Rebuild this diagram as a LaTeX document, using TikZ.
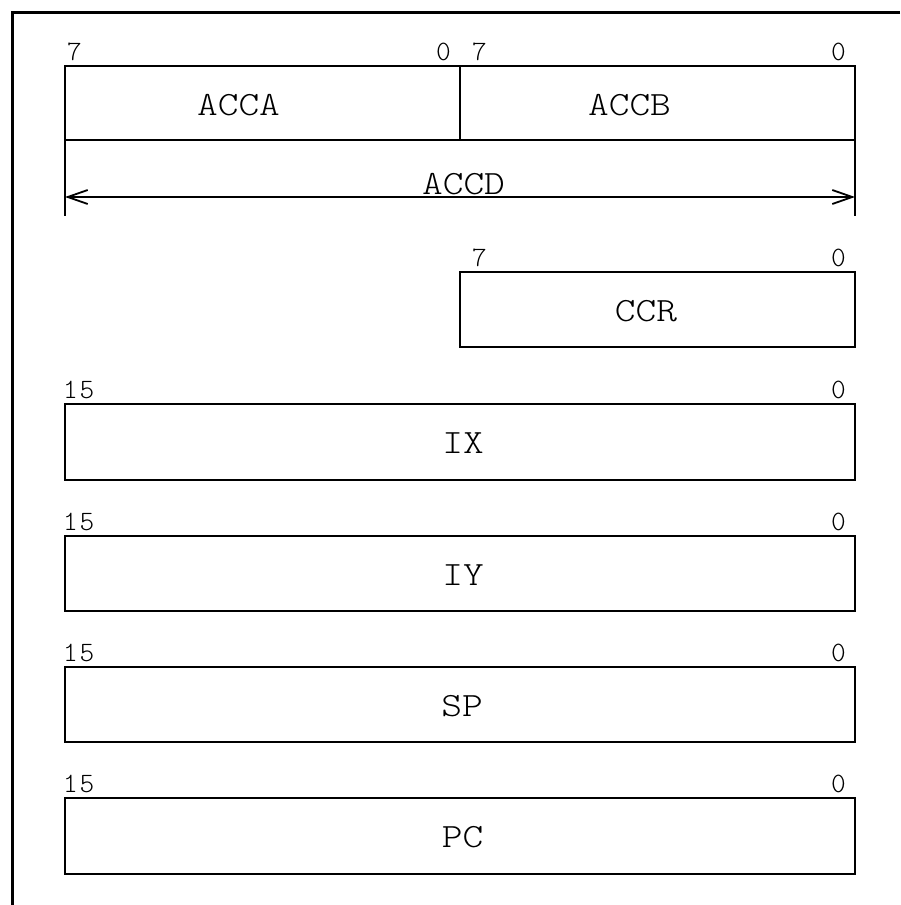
\documentclass[tikz,border=0pt]{standalone}
\usepackage{fontspec}
\usetikzlibrary{arrows.meta}
% Register names and bit numbers: light typewriter type
\newfontfamily\regfont{lmmonolt10-regular}[Extension=.otf, FakeStretch=1.16]
\newfontfamily\bitfont{lmmonolt10-regular}[Extension=.otf, LetterSpace=6]

\begin{document}
\begin{tikzpicture}[x=1pt, y=-1pt,
  regbox/.style={draw, line width=1.8pt, inner sep=0pt, outer sep=0pt, anchor=north west},
  reglabel/.style={inner sep=0pt, anchor=base, font=\regfont\fontsize{34}{40}\selectfont},
  bitlabel/.style={inner sep=0pt, font=\bitfont\fontsize{28}{32}\selectfont},
  wire/.style={line width=1.8pt},
  barb/.tip={Straight Barb[length=20pt, width=14pt]}]
\useasboundingbox (0,0) rectangle (900,905);

% frame along the top and left edges
\draw[line width=3pt] (900,12.5) -| (12.5,905);

% register boxes
\node[regbox, minimum width=395pt, minimum height=74pt] (acca) at (65,66) {};
\node[regbox, minimum width=395pt, minimum height=74pt] (accb) at (460,66) {};
\node[regbox, minimum width=395pt, minimum height=75pt] (ccr) at (460,272) {};
\node[regbox, minimum width=790pt, minimum height=76pt] (ix) at (65,404) {};
\node[regbox, minimum width=790pt, minimum height=75pt] (iy) at (65,536) {};
\node[regbox, minimum width=790pt, minimum height=75pt] (sp) at (65,667) {};
\node[regbox, minimum width=790pt, minimum height=76pt] (pc) at (65,798) {};

% register names
\node[reglabel] (acca-name) at (238.5,115) {ACCA};
\node[reglabel] (accb-name) at (629.5,115) {ACCB};
\node[reglabel] (ccr-name) at (646,321) {CCR};
\node[reglabel] (ix-name) at (463,453) {IX};
\node[reglabel] (iy-name) at (463,585) {IY};
\node[reglabel] (sp-name) at (462,716) {SP};
\node[reglabel] (pc-name) at (462.5,847) {PC};

% bit numbers
\node[bitlabel, anchor=base west] (acca-msb) at (67,60) {7};
\node[bitlabel, anchor=base east] (acca-lsb) at (451,60) {0};
\node[bitlabel, anchor=base west] (accb-msb) at (472,60) {7};
\node[bitlabel, anchor=base east] (accb-lsb) at (846,60) {0};
\node[bitlabel, anchor=base west] (ccr-msb) at (472,266) {7};
\node[bitlabel, anchor=base east] (ccr-lsb) at (846,266) {0};
\node[bitlabel, anchor=base west] (ix-msb) at (63,398) {15};
\node[bitlabel, anchor=base east] (ix-lsb) at (846,398) {0};
\node[bitlabel, anchor=base west] (iy-msb) at (63,530) {15};
\node[bitlabel, anchor=base east] (iy-lsb) at (846,530) {0};
\node[bitlabel, anchor=base west] (sp-msb) at (63,661) {15};
\node[bitlabel, anchor=base east] (sp-lsb) at (846,661) {0};
\node[bitlabel, anchor=base west] (pc-msb) at (63,792) {15};
\node[bitlabel, anchor=base east] (pc-lsb) at (846,792) {0};

% ACCD spans both accumulators
\coordinate (acca-tick) at (65,216);
\coordinate (accb-tick) at (855,216);
\coordinate (accd-l) at (65,197);
\coordinate (accd-r) at (855,197);
\draw[wire] (acca.south west) -- (acca-tick);
\draw[wire] (accb.south east) -- (accb-tick);
\draw[wire, barb-barb] (accd-l) -- (accd-r);
\node[reglabel] (accd-name) at (463.5,194) {ACCD};
\end{tikzpicture}
\end{document}
